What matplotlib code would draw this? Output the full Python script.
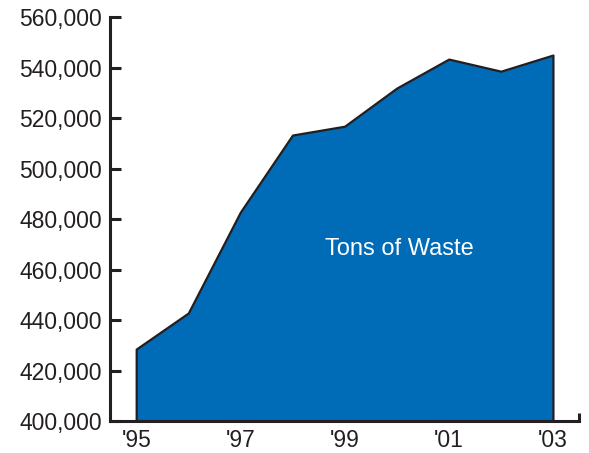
import matplotlib.pyplot as plt

plt.rcParams['font.family'] = ['Liberation Sans', 'DejaVu Sans']

years = [1995, 1996, 1997, 1998, 1999, 2000, 2001, 2002, 2003]
tons = [428500, 442800, 482800, 513300, 516800, 531900, 543400, 538600, 545000]
xtick_years = [1995, 1997, 1999, 2001, 2003]
xtick_labels = ["'95", "'97", "'99", "'01", "'03"]
yticks = list(range(400000, 560001, 20000))

fig = plt.figure(figsize=(5.89, 4.53), dpi=100)
ax = fig.add_axes([0.187, 0.0706, 0.796, 0.8915])

ax.fill_between(years, 400000, tons, facecolor='#006BB6',
                edgecolor='#231F20', linewidth=1.6, zorder=2)

ax.set_xlim(1994.5, 2003.5)
ax.set_ylim(400000, 560000)

ax.spines['top'].set_visible(False)
ax.spines['right'].set_visible(False)
for s in ['left', 'bottom']:
    ax.spines[s].set_linewidth(2.2)
    ax.spines[s].set_color('#231F20')
    ax.spines[s].set_zorder(3)

ax.set_yticks(yticks)
ax.set_yticklabels([f'{v:,}' for v in yticks])
ax.tick_params(axis='y', direction='in', length=8, width=2.2, color='#231F20',
               labelsize=16.5, labelcolor='#231F20', pad=6)

ax.set_xticks(xtick_years)
ax.set_xticklabels(xtick_labels)
ax.tick_params(axis='x', length=0, labelsize=16.5, labelcolor='#231F20', pad=6)

# small upward tick at right end of x axis
ax.plot([2003.5, 2003.5], [400000, 403000], color='#231F20', lw=2.2,
        clip_on=False, solid_capstyle='butt', zorder=3)

ax.text(2000.05, 468000, 'Tons of Waste', color='white', fontsize=17,
        ha='center', va='center', zorder=4)

fig.savefig('out.png', dpi=100)
